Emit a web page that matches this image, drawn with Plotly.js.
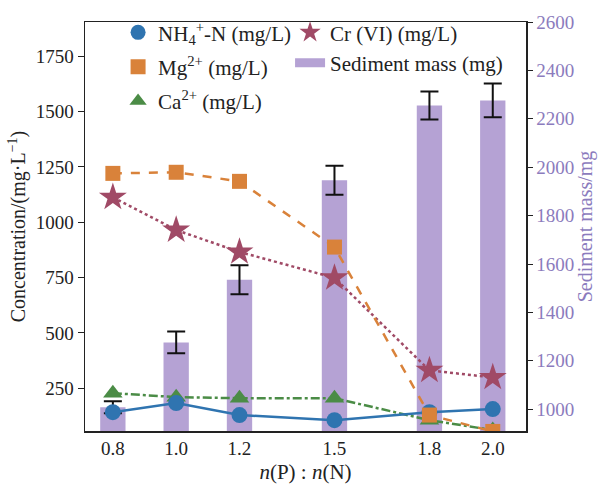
<!DOCTYPE html>
<html>
<head>
<meta charset="utf-8">
<script src="https://cdn.plot.ly/plotly-3.0.1.min.js"></script>
<style>html,body{margin:0;padding:0;background:#fff;}#chart{width:601px;height:484px;}</style>
</head>
<body>
<div id="chart"></div>
<script>
// Data
var ratios = [0.8, 1.0, 1.2, 1.5, 1.8, 2.0];
var ratioLabels = ['0.8', '1.0', '1.2', '1.5', '1.8', '2.0'];
var nh4 = [142, 183, 129, 106, 142, 156];
var mg = [1221, 1226, 1185, 888, 129, 55];
var ca = [228, 210, 205, 205, 106, 61];
var cr = [1113, 965, 866, 749, 331, 299];
var sediment = [1008, 1276, 1535, 1946, 2255, 2276];
var sedimentErr = [25, 45, 60, 60, 58, 70];

var FONT = 'Liberation Serif, serif';
var cBlue = '#2f74b0', cOrange = '#d9823a', cGreen = '#4b8c46', cStar = '#a04a66', cBar = '#b5a2d4', cPurple = '#8b7bbd';

var traces = [
  {type: 'bar', x: ratios, y: sediment, width: 0.08, marker: {color: cBar},
   error_y: {type: 'data', array: sedimentErr, visible: true, color: '#111', thickness: 2, width: 9},
   xaxis: 'x', yaxis: 'y', showlegend: false, hoverinfo: 'skip'},
  {type: 'scatter', mode: 'lines+markers', x: ratios, y: ca, xaxis: 'x', yaxis: 'y2',
   line: {color: cGreen, width: 2.5, dash: 'dashdot'}, marker: {symbol: 'triangle-up', size: 17, color: cGreen}, showlegend: false},
  {type: 'scatter', mode: 'lines+markers', x: ratios, y: nh4, xaxis: 'x', yaxis: 'y2',
   line: {color: cBlue, width: 2.5}, marker: {symbol: 'circle', size: 16, color: cBlue}, showlegend: false},
  {type: 'scatter', mode: 'lines+markers', x: ratios, y: cr, xaxis: 'x', yaxis: 'y2',
   line: {color: cStar, width: 2.5, dash: 'dot'}, marker: {symbol: 'star', size: 21, color: cStar}, showlegend: false},
  {type: 'scatter', mode: 'lines+markers', x: ratios, y: mg, xaxis: 'x', yaxis: 'y2',
   line: {color: cOrange, width: 2.5, dash: 'dash'}, marker: {symbol: 'square', size: 15, color: cOrange}, showlegend: false},
  // legend entries
  {type: 'scatter', mode: 'markers', x: [null], y: [null], xaxis: 'x', yaxis: 'y2', name: 'NH<sub>4</sub><sup>+</sup>-N (mg/L)',
   marker: {symbol: 'circle', size: 15, color: cBlue}, legend: 'legend', legendgroup: 'a'},
  {type: 'scatter', mode: 'markers', x: [null], y: [null], xaxis: 'x', yaxis: 'y2', name: 'Mg<sup>2+</sup> (mg/L)',
   marker: {symbol: 'square', size: 15, color: cOrange}, legend: 'legend', legendgroup: 'b'},
  {type: 'scatter', mode: 'markers', x: [null], y: [null], xaxis: 'x', yaxis: 'y2', name: 'Ca<sup>2+</sup> (mg/L)',
   marker: {symbol: 'triangle-up', size: 15, color: cGreen}, legend: 'legend', legendgroup: 'c'},
  {type: 'scatter', mode: 'markers', x: [null], y: [null], xaxis: 'x', yaxis: 'y2', name: 'Cr (VI) (mg/L)',
   marker: {symbol: 'star', size: 16, color: cStar}, legend: 'legend2', legendgroup: 'd'},
  {type: 'scatter', mode: 'lines', x: [null], y: [null], xaxis: 'x', yaxis: 'y2', name: 'Sediment mass (mg)',
   line: {color: cBar, width: 9}, legend: 'legend2', legendgroup: 'e'}
];

var layout = {
  width: 601, height: 484,
  margin: {l: 85, r: 75, t: 20, b: 53},
  paper_bgcolor: '#ffffff', plot_bgcolor: '#ffffff',
  font: {family: FONT, size: 19, color: '#222'},
  xaxis: {range: [0.712, 2.105], tickvals: ratios, ticktext: ratioLabels, ticks: '', showgrid: false, zeroline: false,
          showline: true, mirror: true, linecolor: '#222', linewidth: 1.5,
          title: {text: '<i>n</i>(P) : <i>n</i>(N)', font: {size: 21, family: FONT, color: '#222'}, standoff: 6},
          tickfont: {size: 19, family: FONT, color: '#222'}},
  yaxis: {range: [910, 2600], side: 'right', tickvals: [1000, 1200, 1400, 1600, 1800, 2000, 2200, 2400, 2600],
          ticks: 'outside', ticklen: 5, tickcolor: '#222', showgrid: false, zeroline: false,
          showline: true, linecolor: '#222', linewidth: 1.5,
          tickfont: {size: 19, family: FONT, color: cPurple},
          title: {text: 'Sediment mass/mg', font: {size: 20, family: FONT, color: cPurple}, standoff: 4}},
  yaxis2: {range: [57, 1905], side: 'left', overlaying: 'y', tickvals: [250, 500, 750, 1000, 1250, 1500, 1750],
           ticks: 'outside', ticklen: 6, tickcolor: '#222', showgrid: false, zeroline: false,
           showline: true, linecolor: '#222', linewidth: 1.5,
           tickfont: {size: 19, family: FONT, color: '#222'},
           title: {text: 'Concentration/(mg·L<sup>−1</sup>)', font: {size: 20, family: FONT, color: '#222'}, standoff: 4}},
  legend: {x: 0.075, y: 1.024, xanchor: 'left', yanchor: 'top', bgcolor: 'rgba(0,0,0,0)', tracegroupgap: 4,
           traceorder: 'grouped', font: {size: 21, family: FONT, color: '#222'}},
  legend2: {x: 0.465, y: 1.024, xanchor: 'left', yanchor: 'top', bgcolor: 'rgba(0,0,0,0)', tracegroupgap: 0,
            traceorder: 'grouped', font: {size: 21, family: FONT, color: '#222'}},
  showlegend: true
};

Plotly.newPlot('chart', traces, layout, {displayModeBar: false, staticPlot: true});
</script>
</body>
</html>
